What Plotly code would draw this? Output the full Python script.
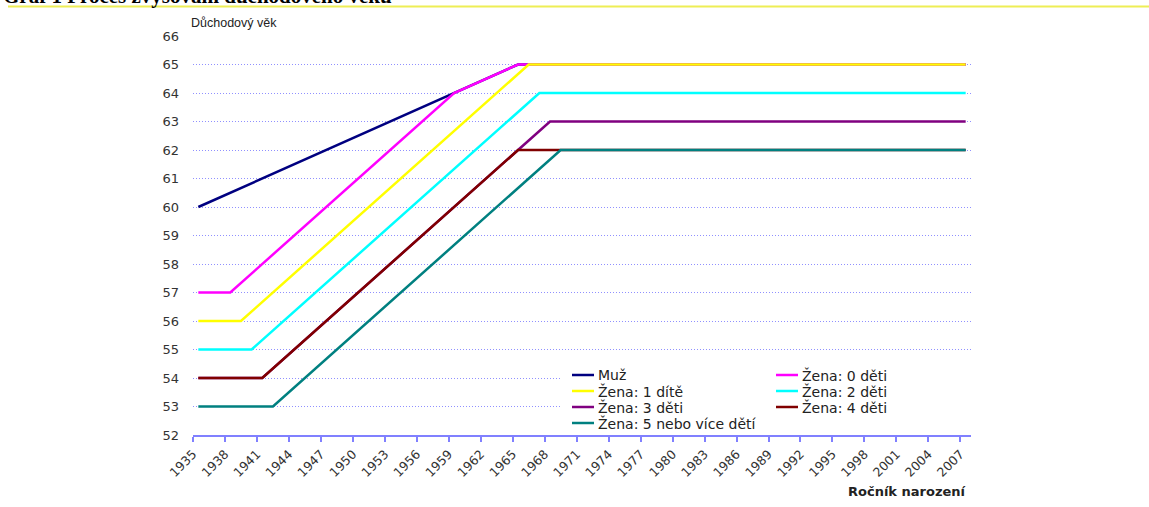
import plotly.graph_objects as go

# Birth-year breakpoints and retirement ages for each group (straight segments between them)
muz_years = [1935, 1959, 1965, 2007]
muz_age = [60, 64, 65, 65]

zena0_years = [1935, 1938, 1959, 1965, 2007]
zena0_age = [57, 57, 64, 65, 65]

zena1_years = [1935, 1939, 1966, 2007]
zena1_age = [56, 56, 65, 65]

zena2_years = [1935, 1940, 1967, 2007]
zena2_age = [55, 55, 64, 64]

zena3_years = [1935, 1941, 1965, 1968, 2007]
zena3_age = [54, 54, 62, 63, 63]

zena4_years = [1935, 1941, 1965, 2007]
zena4_age = [54, 54, 62, 62]

zena5_years = [1935, 1942, 1969, 2007]
zena5_age = [53, 53, 62, 62]

series_names = ["Muž", "Žena: 0 děti", "Žena: 1 dítě", "Žena: 2 děti",
                "Žena: 3 děti", "Žena: 4 děti", "Žena: 5 nebo více dětí"]
series_colors = ["#000080", "#ff00ff", "#ffff00", "#00ffff",
                 "#800080", "#800000", "#008080"]
series_x = [muz_years, zena0_years, zena1_years, zena2_years,
            zena3_years, zena4_years, zena5_years]
series_y = [muz_age, zena0_age, zena1_age, zena2_age,
            zena3_age, zena4_age, zena5_age]

tick_years = list(range(1935, 2008, 3))
tick_labels = [str(y) for y in tick_years]
age_ticks = list(range(52, 67))

# Plot-area geometry in pixels
W, H = 1149, 507
L, R, T, B = 193, 178, 36, 72
PW, PH = W - L - R, H - T - B


def px(x):
    return (x - L) / PW


def py(y):
    return (H - B - y) / PH


fig = go.Figure()
for name, color, xs, ys in zip(series_names, series_colors, series_x, series_y):
    fig.add_trace(go.Scatter(
        x=xs, y=ys, name=name, mode="lines",
        line=dict(color=color, width=2.5),
        showlegend=False,
    ))

sans = "DejaVu Sans, Verdana, sans-serif"
arial = "Liberation Sans, Arial, sans-serif"

fig.update_layout(
    width=W, height=H,
    margin=dict(l=L, r=R, t=T, b=B),
    paper_bgcolor="white", plot_bgcolor="white",
    font=dict(family=sans, size=13, color="#333333"),
    showlegend=False,
    xaxis=dict(
        range=[1934.5, 2007.5],
        tickmode="array",
        # tick marks sit on the category boundaries
        tickvals=[y - 0.5 for y in tick_years],
        ticktext=tick_labels,
        tickangle=-45,
        ticks="outside", ticklen=5, tickwidth=1.5, tickcolor="#8080ff",
        showline=True, linecolor="#8080ff", linewidth=2,
        showgrid=False, zeroline=False,
        tickfont=dict(family=sans, size=12.5, color="#333333"),
    ),
    yaxis=dict(
        range=[52, 66],
        tickmode="array", tickvals=age_ticks,
        showline=False, zeroline=False,
        showgrid=True, gridcolor="#9090ff", gridwidth=1, griddash="1px,2px",
        ticklabelstandoff=13,
        tickfont=dict(family=sans, size=13, color="#333333"),
    ),
)

# Axis captions
fig.add_annotation(
    text="Důchodový věk", xref="paper", yref="paper",
    x=px(189), y=py(23), xanchor="left", yanchor="middle", showarrow=False,
    font=dict(family=arial, size=12.5, color="#222222"),
)
fig.add_annotation(
    text="<b>Ročník narození</b>", xref="paper", yref="paper",
    x=px(969), y=py(491), xanchor="right", yanchor="middle", showarrow=False,
    font=dict(family=sans, size=13, color="#222222"),
)

# Legend: white panel, two columns of line samples with labels
fig.add_shape(
    type="rect", xref="paper", yref="paper", layer="above",
    x0=px(561), x1=px(971), y0=py(433), y1=py(362),
    fillcolor="white", line=dict(width=0),
)
legend_cols = [(572, 594, 596), (776, 798, 800)]
legend_rows = [375, 391, 407, 423]
for i, (name, color) in enumerate(zip(series_names, series_colors)):
    x0, x1, xt = legend_cols[i % 2]
    yy = legend_rows[i // 2]
    fig.add_shape(
        type="line", xref="paper", yref="paper", layer="above",
        x0=px(x0), x1=px(x1), y0=py(yy), y1=py(yy),
        line=dict(color=color, width=2.5),
    )
    fig.add_annotation(
        text=name, xref="paper", yref="paper",
        x=px(xt), y=py(yy), xanchor="left", yanchor="middle", showarrow=False,
        font=dict(family=sans, size=14, color="#222222"),
    )

# Heading of the page, partly above the visible area, with its rule underneath
fig.add_annotation(
    text="<b>Graf 1 Proces zvyšování důchodového věku</b>",
    xref="paper", yref="paper",
    x=px(1), y=py(-4.3), xanchor="left", yanchor="middle",
    showarrow=False,
    font=dict(family="Liberation Serif, Times New Roman, serif", size=21, color="#000000"),
)
fig.add_shape(
    type="line", xref="paper", yref="paper",
    x0=px(8), x1=px(W), y0=py(6.5), y1=py(6.5),
    line=dict(color="#eeee55", width=2),
)

fig.write_html("out.html")
